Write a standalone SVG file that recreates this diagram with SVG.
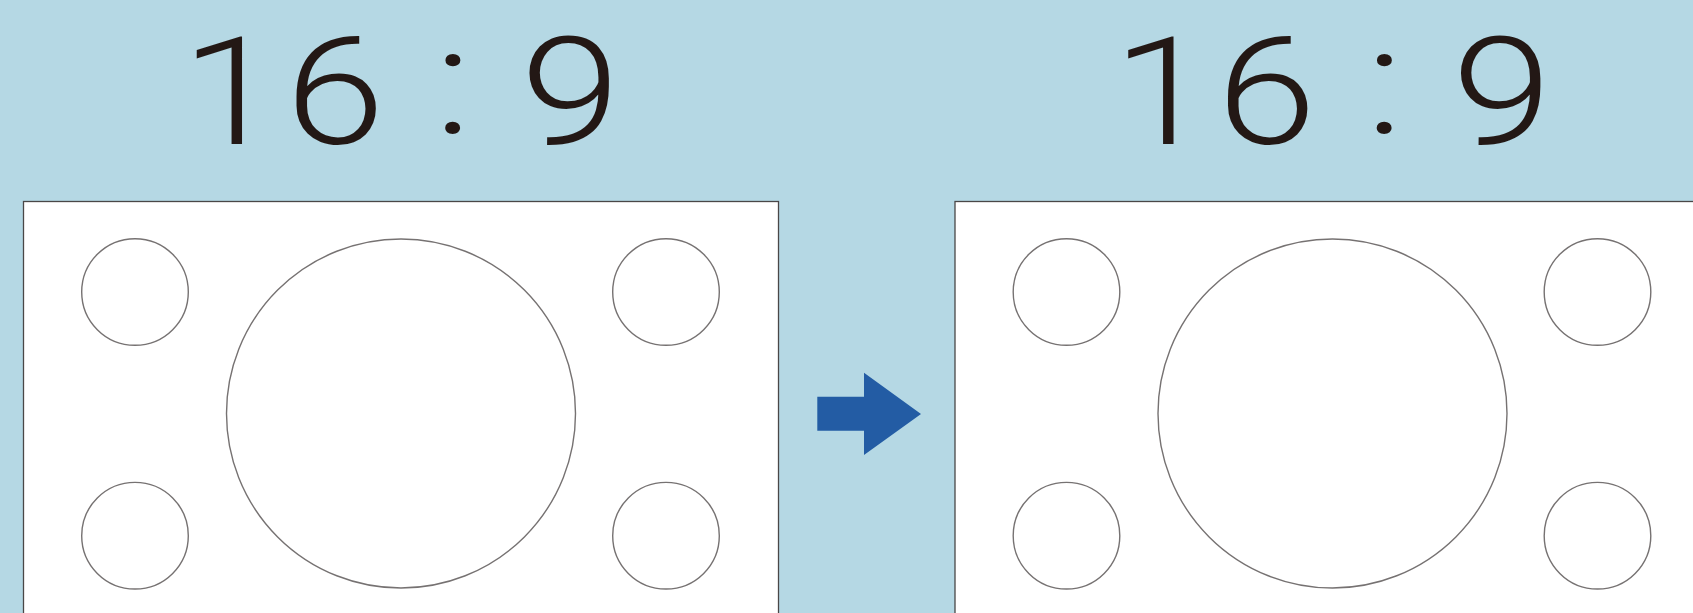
<svg xmlns="http://www.w3.org/2000/svg" width="1693" height="613" viewBox="0 0 1693 613">
<style>
.bg{fill:#b5d8e4}
.panel{fill:#ffffff;stroke:#4a4747;stroke-width:1.3}
.c{fill:none;stroke:#767272;stroke-width:1.4}
.t{font-family:Roboto,"Liberation Sans",sans-serif;font-weight:300;font-size:150px;fill:#231815;text-anchor:middle}
.arrow{fill:#235ca4}
</style>
<rect class="bg" x="0" y="0" width="1693" height="613"/>
<g id="left">
<text class="t" transform="scale(1.2,1)" x="192.5 279.2 328.3 377.5 425.8 475.4" y="144 144 144 132.6 144 144">16 : 9</text>
<rect class="panel" x="23.5" y="201.5" width="755" height="430"/>
<circle class="c" cx="135" cy="292" r="53.3"/>
<circle class="c" cx="135" cy="535.7" r="53.3"/>
<circle class="c" cx="666" cy="292" r="53.3"/>
<circle class="c" cx="666" cy="535.7" r="53.3"/>
<circle class="c" cx="401" cy="413.5" r="174.5"/>
</g>
<g id="right" transform="translate(931.5,0)">
<text class="t" transform="scale(1.2,1)" x="192.5 279.2 328.3 377.5 425.8 475.4" y="144 144 144 132.6 144 144">16 : 9</text>
<rect class="panel" x="23.5" y="201.5" width="755" height="430"/>
<circle class="c" cx="135" cy="292" r="53.3"/>
<circle class="c" cx="135" cy="535.7" r="53.3"/>
<circle class="c" cx="666" cy="292" r="53.3"/>
<circle class="c" cx="666" cy="535.7" r="53.3"/>
<circle class="c" cx="401" cy="413.5" r="174.5"/>
</g>
<g id="connectors">
<polygon class="arrow" points="817.3,396.7 864,396.7 864,372.7 921,414 864,455 864,430.7 817.3,430.7"/>
</g>
</svg>
